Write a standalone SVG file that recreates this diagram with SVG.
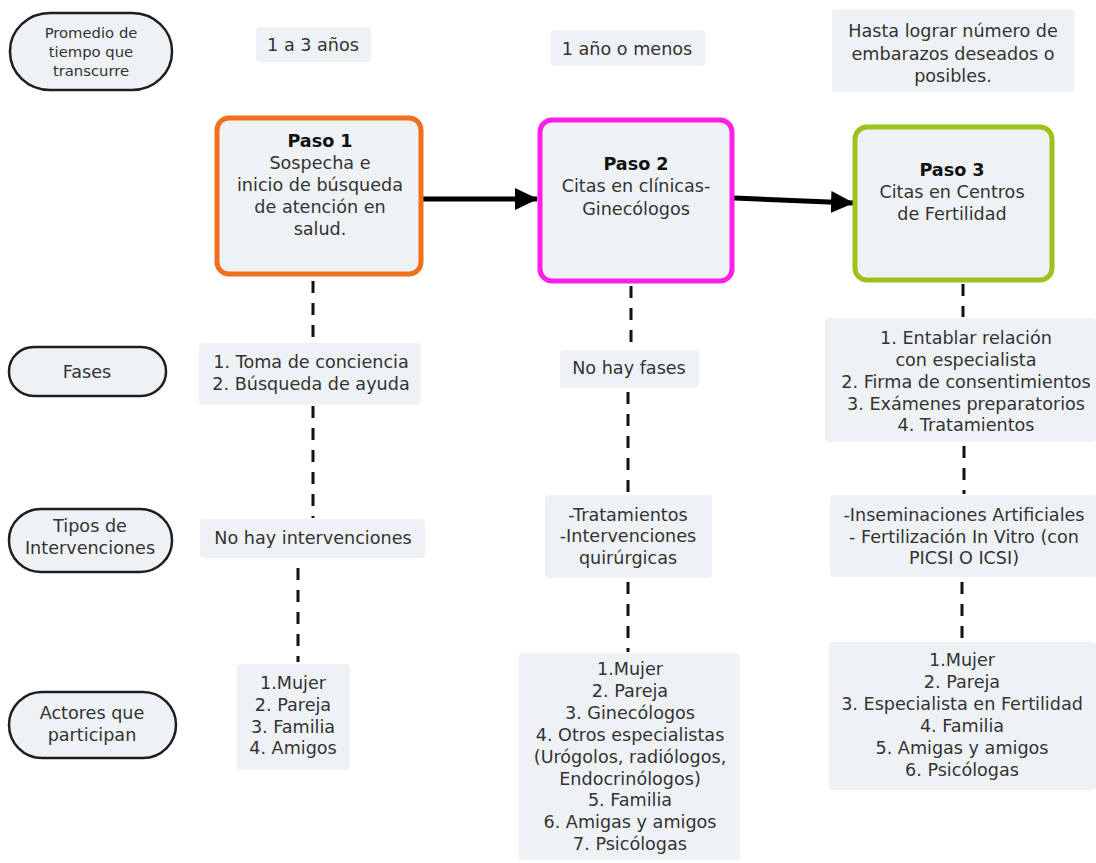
<svg xmlns="http://www.w3.org/2000/svg" width="1096" height="863" viewBox="0 0 1096 863">
<style>
text{font-family:"DejaVu Sans","Verdana",sans-serif;font-size:17.6px;fill:#333;text-anchor:middle}
.b{font-weight:bold;fill:#111}
.sm{font-size:14.8px}
.lbl{fill:#eef2f5;stroke:#1e1e1e;stroke-width:2.5}
.box{fill:#eef2f4;stroke:none}
.step{fill:#eef2f4;stroke-width:5}
.dash{stroke:#111;stroke-width:3;stroke-dasharray:12 10;fill:none}
.arr{stroke:#000;stroke-width:5;fill:none}
</style>
<defs>
<marker id="ah" markerUnits="userSpaceOnUse" markerWidth="24" markerHeight="24" refX="22" refY="11" orient="auto" viewBox="0 0 24 24">
<path d="M0,0 L23,11 L0,22 Z" fill="#000"/>
</marker>
</defs>
<rect width="1096" height="863" fill="#fff"/>

<g id="connectors">
<line class="arr" x1="423" y1="199" x2="537" y2="199" marker-end="url(#ah)"/>
<line class="arr" x1="734" y1="198" x2="853" y2="203" marker-end="url(#ah)"/>
<line class="dash" x1="313" y1="281" x2="313" y2="342"/>
<line class="dash" x1="313" y1="406" x2="313" y2="518"/>
<line class="dash" x1="298" y1="568" x2="298" y2="662"/>
<line class="dash" x1="631" y1="286" x2="631" y2="348"/>
<line class="dash" x1="628" y1="392" x2="628" y2="494"/>
<line class="dash" x1="628" y1="582" x2="628" y2="652"/>
<line class="dash" x1="963" y1="284" x2="963" y2="317"/>
<line class="dash" x1="964" y1="446" x2="964" y2="494"/>
<line class="dash" x1="962" y1="582" x2="962" y2="641"/>
</g>

<g id="lbl-promedio">
<rect class="lbl" x="10" y="13" width="162" height="77" rx="40" ry="38"/>
<text class="sm" x="91" y="38">Promedio de</text>
<text class="sm" x="91" y="57">tiempo que</text>
<text class="sm" x="91" y="76">transcurre</text>
</g>
<g id="lbl-fases">
<rect class="lbl" x="9" y="347" width="157" height="49" rx="25" ry="24"/>
<text x="87" y="378">Fases</text>
</g>
<g id="lbl-tipos">
<rect class="lbl" x="9" y="509" width="163" height="63" rx="32" ry="31"/>
<text x="90" y="532">Tipos de</text>
<text x="90" y="554">Intervenciones</text>
</g>
<g id="lbl-actores">
<rect class="lbl" x="9" y="692" width="167" height="66" rx="33" ry="33"/>
<text x="92" y="719">Actores que</text>
<text x="92" y="741">participan</text>
</g>

<g id="t1">
<rect class="box" x="256" y="27" width="115" height="35" rx="4"/>
<text x="313" y="51">1 a 3 años</text>
</g>
<g id="t2">
<rect class="box" x="551" y="30" width="154" height="36" rx="4"/>
<text x="627" y="55">1 año o menos</text>
</g>
<g id="t3">
<rect class="box" x="832" y="9" width="242" height="83" rx="4"/>
<text x="953" y="37">Hasta lograr número de</text>
<text x="953" y="60">embarazos deseados o</text>
<text x="953" y="82">posibles.</text>
</g>

<g id="paso1">
<rect class="step" x="217" y="118" width="204" height="156" rx="12" stroke="#f07020"/>
<text class="b" x="320" y="147">Paso 1</text>
<text x="320" y="169">Sospecha e</text>
<text x="320" y="191">inicio de búsqueda</text>
<text x="320" y="213">de atención en</text>
<text x="320" y="235">salud.</text>
</g>
<g id="paso2">
<rect class="step" x="540" y="120" width="192" height="161" rx="12" stroke="#ff1ee6"/>
<text class="b" x="636" y="170">Paso 2</text>
<text x="636" y="192">Citas en clínicas-</text>
<text x="636" y="215">Ginecólogos</text>
</g>
<g id="paso3">
<rect class="step" x="855" y="127" width="197" height="153" rx="12" stroke="#9dc21b"/>
<text class="b" x="952" y="176">Paso 3</text>
<text x="952" y="198">Citas en Centros</text>
<text x="952" y="220">de Fertilidad</text>
</g>

<g id="fases1">
<rect class="box" x="199" y="343" width="222" height="62" rx="4"/>
<text x="311" y="368">1. Toma de conciencia</text>
<text x="311" y="390">2. Búsqueda de ayuda</text>
</g>
<g id="fases2">
<rect class="box" x="560" y="350" width="139" height="38" rx="4"/>
<text x="629" y="374">No hay fases</text>
</g>
<g id="fases3">
<rect class="box" x="825" y="318" width="271" height="124" rx="4"/>
<text x="966" y="344">1. Entablar relación</text>
<text x="966" y="366">con especialista</text>
<text x="966" y="388">2. Firma de consentimientos</text>
<text x="966" y="410">3. Exámenes preparatorios</text>
<text x="966" y="431">4. Tratamientos</text>
</g>

<g id="tipos1">
<rect class="box" x="200" y="519" width="225" height="39" rx="4"/>
<text x="313" y="544">No hay intervenciones</text>
</g>
<g id="tipos2">
<rect class="box" x="545" y="495" width="167" height="83" rx="4"/>
<text x="628" y="521">-Tratamientos</text>
<text x="628" y="542">-Intervenciones</text>
<text x="628" y="564">quirúrgicas</text>
</g>
<g id="tipos3">
<rect class="box" x="830" y="495" width="266" height="82" rx="4"/>
<text x="964" y="521">-Inseminaciones Artificiales</text>
<text x="964" y="543">- Fertilización In Vitro (con</text>
<text x="964" y="564">PICSI O ICSI)</text>
</g>

<g id="actores1">
<rect class="box" x="237" y="664" width="113" height="106" rx="4"/>
<text x="293" y="689">1.Mujer</text>
<text x="293" y="711">2. Pareja</text>
<text x="293" y="733">3. Familia</text>
<text x="293" y="754">4. Amigos</text>
</g>
<g id="actores2">
<rect class="box" x="519" y="653" width="221" height="207" rx="4"/>
<text x="630" y="675">1.Mujer</text>
<text x="630" y="697">2. Pareja</text>
<text x="630" y="719">3. Ginecólogos</text>
<text x="630" y="741">4. Otros especialistas</text>
<text x="630" y="763">(Urógolos, radiólogos,</text>
<text x="630" y="785">Endocrinólogos)</text>
<text x="630" y="806">5. Familia</text>
<text x="630" y="828">6. Amigas y amigos</text>
<text x="630" y="850">7. Psicólogas</text>
</g>
<g id="actores3">
<rect class="box" x="829" y="642" width="267" height="148" rx="4"/>
<text x="962" y="666">1.Mujer</text>
<text x="962" y="688">2. Pareja</text>
<text x="962" y="710">3. Especialista en Fertilidad</text>
<text x="962" y="732">4. Familia</text>
<text x="962" y="754">5. Amigas y amigos</text>
<text x="962" y="776">6. Psicólogas</text>
</g>
</svg>
